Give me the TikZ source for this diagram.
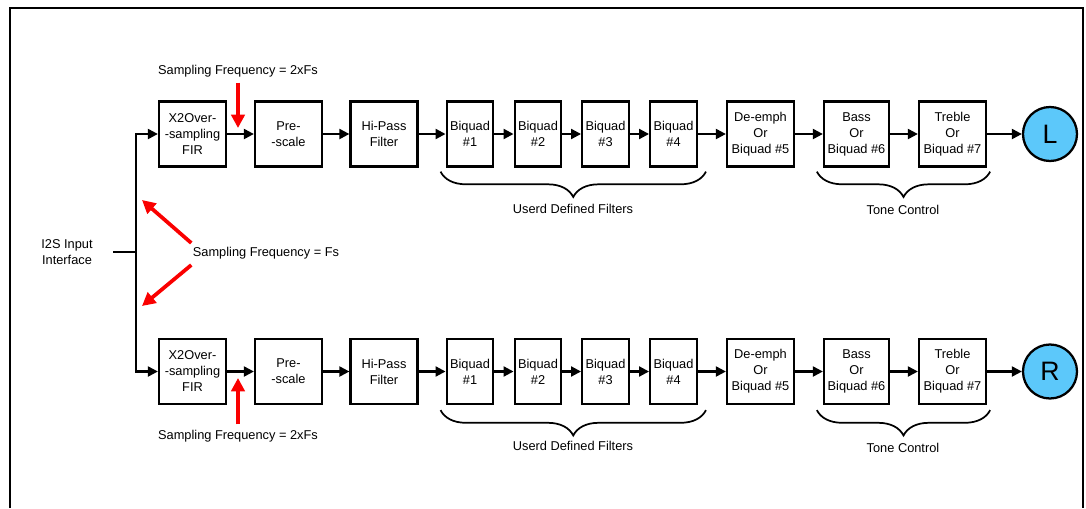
\documentclass[tikz,border=0pt]{standalone}
\usepackage{fontspec}
\setmainfont{Liberation Sans}
\usetikzlibrary{arrows.meta, positioning, calc, decorations.pathreplacing}
\definecolor{chanblue}{RGB}{92, 200, 250}
\definecolor{fsred}{RGB}{250, 0, 0}

\tikzset{
  blk/.style={draw, line width=1.7pt, minimum width=50.25pt, minimum height=48.75pt, align=center, inner sep=1pt},
  bq/.style={blk, minimum width=35pt},
  chan/.style={draw, circle, line width=1.7pt, fill=chanblue, minimum size=40.5pt, inner sep=0pt, font=\fontsize{20}{24}\selectfont},
  flow/.style={line width=1.6pt, -{Triangle[length=7.5pt, width=7.5pt]}},
  wire/.style={line width=1.6pt},
  redarr/.style={draw=fsred, line width=2.8pt, -{Triangle[length=10pt, width=10pt]}, fsred},
  brc/.style={line width=1.3pt, decorate, decoration={brace, mirror, amplitude=19pt}},
  lbl/.style={inner sep=1pt}
}

\begin{document}
\begin{tikzpicture}[x=0.75pt, y=-0.75pt, font=\fontsize{9.6}{12}\selectfont]
  \useasboundingbox (0,0) rectangle (1086,508);

  % Frame
  \draw[line width=1.7pt] (10,508) -- (10,8) -- (1083,8) -- (1083,508);

  % Input
  \node[align=center, lbl] (i2s) at (67,252) {I2S Input\\Interface};
  \coordinate (ins) at (113,252);
  \coordinate (split) at (136,252);

  % Left channel
  \node[blk] (x2L) at (192.5,134) {X2Over-\\-sampling\\FIR};
  \node[blk] (preL) at (288.5,134) {Pre-\\-scale};
  \node[blk] (hpL) at (384,134) {Hi-Pass\\Filter};
  \node[bq] (bq1L) at (470,134) {Biquad\\\#1};
  \node[bq] (bq2L) at (538,134) {Biquad\\\#2};
  \node[bq] (bq3L) at (605.5,134) {Biquad\\\#3};
  \node[bq] (bq4L) at (673.5,134) {Biquad\\\#4};
  \node[blk] (deL) at (760.5,134) {De-emph\\Or\\Biquad \#5};
  \node[blk, minimum width=48.75pt] (bassL) at (856.5,134) {Bass\\Or\\Biquad \#6};
  \node[blk] (trebL) at (952.5,134) {Treble\\Or\\Biquad \#7};
  \node[chan] (outL) at (1050,134) {L};

  % Right channel
  \node[blk] (x2R) at (192.5,371.5) {X2Over-\\-sampling\\FIR};
  \node[blk] (preR) at (288.5,371.5) {Pre-\\-scale};
  \node[blk] (hpR) at (384,371.5) {Hi-Pass\\Filter};
  \node[bq] (bq1R) at (470,371.5) {Biquad\\\#1};
  \node[bq] (bq2R) at (538,371.5) {Biquad\\\#2};
  \node[bq] (bq3R) at (605.5,371.5) {Biquad\\\#3};
  \node[bq] (bq4R) at (673.5,371.5) {Biquad\\\#4};
  \node[blk] (deR) at (760.5,371.5) {De-emph\\Or\\Biquad \#5};
  \node[blk, minimum width=48.75pt] (bassR) at (856.5,371.5) {Bass\\Or\\Biquad \#6};
  \node[blk] (trebR) at (952.5,371.5) {Treble\\Or\\Biquad \#7};
  \node[chan] (outR) at (1050,371.5) {R};

  % Input split
  \draw[wire] (ins) -- (split);
  \draw[flow] (split) |- (x2L.west);
  \draw[flow] (split) |- (x2R.west);

  % Signal chains
  \draw[flow] (x2L) -- (preL);
  \draw[flow] (preL) -- (hpL);
  \draw[flow] (hpL) -- (bq1L);
  \draw[flow] (bq1L) -- (bq2L);
  \draw[flow] (bq2L) -- (bq3L);
  \draw[flow] (bq3L) -- (bq4L);
  \draw[flow] (bq4L) -- (deL);
  \draw[flow] (deL) -- (bassL);
  \draw[flow] (bassL) -- (trebL);
  \draw[flow] (trebL) -- (outL);

  \draw[flow] (x2R) -- (preR);
  \draw[flow] (preR) -- (hpR);
  \draw[flow] (hpR) -- (bq1R);
  \draw[flow] (bq1R) -- (bq2R);
  \draw[flow] (bq2R) -- (bq3R);
  \draw[flow] (bq3R) -- (bq4R);
  \draw[flow] (bq4R) -- (deR);
  \draw[flow] (deR) -- (bassR);
  \draw[flow] (bassR) -- (trebR);
  \draw[flow] (trebR) -- (outR);

  % Braces
  \draw[brc] ($(bq1L.south west)+(-5,4)$) -- ($(bq4L.south east)+(8,4)$);
  \draw[brc] ($(bassL.south west)+(-6,4)$) -- ($(trebL.south east)+(3,4)$);
  \draw[brc] ($(bq1R.south west)+(-5,5)$) -- ($(bq4R.south east)+(8,5)$);
  \draw[brc] ($(bassR.south west)+(-6,5)$) -- ($(trebR.south east)+(3,5)$);
  \node[lbl] (udfL) at (573,209) {Userd Defined Filters};
  \node[lbl] (toneL) at (903,210) {Tone Control};
  \node[lbl] (udfR) at (573,446) {Userd Defined Filters};
  \node[lbl] (toneR) at (903,448) {Tone Control};

  % Sampling frequencies
  \node[lbl] (fsTop) at (238,71) {Sampling Frequency = 2xFs};
  \node[lbl] (fsBot) at (238,436) {Sampling Frequency = 2xFs};
  \node[lbl] (fsMid) at (266,253) {Sampling Frequency = Fs};
  \coordinate (tapL) at (238,128);
  \coordinate (tapR) at (238,378);
  \coordinate (hitT) at (142,200);
  \coordinate (hitB) at (142,306);
  \draw[redarr] ([yshift=-3pt]fsTop.south) -- (tapL);
  \draw[redarr] ([yshift=3pt]fsBot.north) -- (tapR);
  \draw[redarr] ([yshift=7.5pt]fsMid.west) -- (hitT);
  \draw[redarr] ([yshift=-9pt]fsMid.west) -- (hitB);
\end{tikzpicture}
\end{document}
